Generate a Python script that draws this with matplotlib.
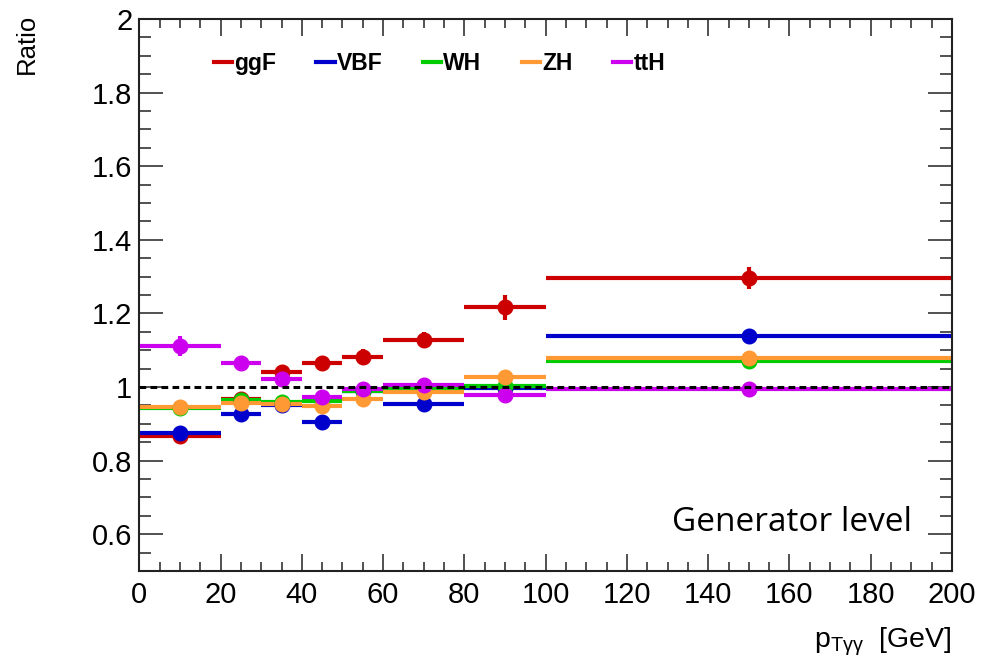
import numpy as np
import matplotlib
matplotlib.use("Agg")
import matplotlib.pyplot as plt
from matplotlib.ticker import MultipleLocator
from matplotlib.lines import Line2D

plt.rcParams['font.family'] = ['Liberation Sans', 'DejaVu Sans']
plt.rcParams['mathtext.fontset'] = 'custom'
plt.rcParams['mathtext.rm'] = 'Liberation Sans'
plt.rcParams['mathtext.it'] = 'Liberation Sans'

# ---- data ----
bin_edges = [0, 20, 30, 40, 50, 60, 80, 100, 200]
processes = ["ggF", "VBF", "WH", "ZH", "ttH"]
ggF = [0.866, 0.968, 1.041, 1.065, 1.082, 1.129, 1.217, 1.296]
ggF_err = [0.020, 0.012, 0.012, 0.015, 0.020, 0.020, 0.034, 0.030]
VBF = [0.875, 0.927, 0.951, 0.905, 0.990, 0.954, 0.997, 1.138]
VBF_err = [0.020, 0.015, 0.015, 0.015, 0.010, 0.010, 0.010, 0.010]
WH = [0.943, 0.965, 0.960, 0.962, 0.988, 0.997, 1.003, 1.070]
WH_err = [0.010, 0.010, 0.010, 0.010, 0.010, 0.010, 0.010, 0.010]
ZH = [0.946, 0.957, 0.955, 0.949, 0.968, 0.986, 1.027, 1.079]
ZH_err = [0.010, 0.010, 0.010, 0.010, 0.010, 0.010, 0.010, 0.010]
ttH = [1.111, 1.065, 1.022, 0.973, 0.995, 1.005, 0.978, 0.995]
ttH_err = [0.028, 0.020, 0.020, 0.012, 0.010, 0.010, 0.010, 0.010]

values = [ggF, VBF, WH, ZH, ttH]
errors = [ggF_err, VBF_err, WH_err, ZH_err, ttH_err]
colors = ["#CC0000", "#0000CC", "#00CC00", "#FF9933", "#CC00EE"]

edges = np.array(bin_edges, dtype=float)
centers = 0.5 * (edges[:-1] + edges[1:])
halfw = 0.5 * (edges[1:] - edges[:-1])

fig = plt.figure(figsize=(9.81, 6.70), dpi=100)
ax = fig.add_axes([139.3 / 981, 1 - 571 / 670, (952 - 139.3) / 981, (571 - 19) / 670])

for name, v, e, c in zip(processes, values, errors, colors):
    ax.errorbar(centers, v, xerr=halfw, yerr=e, fmt='o', color=c,
                markersize=10.5, elinewidth=3, capsize=0, label=name)

ax.axhline(1.0, color='black', linestyle=(0, (2.2, 1.4)), linewidth=2.2, zorder=10)

ax.set_xlim(0, 200)
ax.set_ylim(0.5, 2.0)
ax.xaxis.set_major_locator(MultipleLocator(20))
ax.xaxis.set_minor_locator(MultipleLocator(5))
ax.yaxis.set_major_locator(MultipleLocator(0.2))
ax.yaxis.set_minor_locator(MultipleLocator(0.05))
ax.yaxis.set_major_formatter(plt.FuncFormatter(lambda v, p: f"{v:g}"))

ax.tick_params(axis='both', which='both', direction='in', top=True, right=True,
               labelsize=21, width=1.2, color='#333333')
ax.tick_params(axis='x', which='major', length=12, pad=7)
ax.tick_params(axis='x', which='minor', length=6.5)
ax.tick_params(axis='y', which='major', length=17, pad=5)
ax.tick_params(axis='y', which='minor', length=8.7)
for s in ax.spines.values():
    s.set_linewidth(1.5)
    s.set_color('#222222')

ax.set_ylabel("Ratio", fontsize=18.5, loc='top')
ax.yaxis.set_label_coords(-0.124, 1.009)
ax.set_xlabel(r"p$_{\mathregular{T\gamma\gamma}}$  [GeV]", fontsize=20.5, loc='right', labelpad=12)

leg_handles = [Line2D([], [], color=c, linewidth=3) for c in colors]
ax.legend(leg_handles, processes, ncol=5, loc='upper left',
          bbox_to_anchor=(0.066, 0.978), frameon=False,
          prop={'size': 16.5, 'weight': 'bold'}, handlelength=0.8,
          handletextpad=0.1, columnspacing=1.75)

ax.text(0.951, 0.087, "Generator level", transform=ax.transAxes, fontsize=24,
        family=['Open Sans', 'DejaVu Sans'], ha='right', va='center')

fig.savefig("out.png", dpi=100)
